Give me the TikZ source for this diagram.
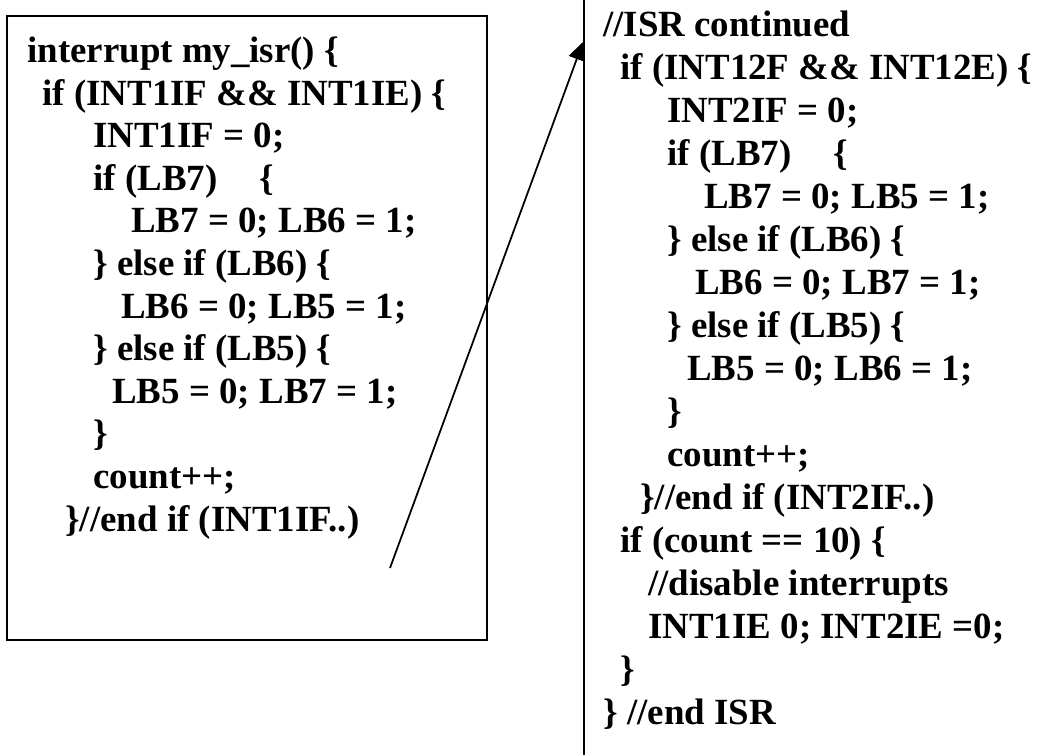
\documentclass[tikz,border=0pt]{standalone}
\usepackage{fontspec}
\setmainfont{Liberation Serif}
\usetikzlibrary{arrows.meta}

\begin{document}
\begin{tikzpicture}[x=0.02cm,y=-0.02cm,
                    code/.style={anchor=base west,inner sep=0pt,font=\fontsize{21}{24}\selectfont\bfseries},
                    frame/.style={line width=1.2pt},
                    jump/.style={line width=1pt,-{Triangle[length=0.36cm,width=0.34cm]}}]
    \path[use as bounding box] (0,0) rectangle (1049,755);

    % first half of the handler
    \draw[frame] (7,16) rectangle (487,640);
    \node[code] (a1)  at (27,62.5)  {interrupt my\_isr() \{};
    \node[code] (a2)  at (42,105.1) {if (INT1IF \&\& INT1IE) \{};
    \node[code] (a3)  at (93,147.7) {INT1IF = 0;};
    \node[code] (a4)  at (93,190.3) {if (LB7)\hspace{0.84cm}\{};
    \node[code] (a5)  at (131,232.9) {LB7 = 0; LB6 = 1;};
    \node[code] (a6)  at (93,275.5) {\} else if (LB6) \{};
    \node[code] (a7)  at (121,318.1) {LB6 = 0; LB5 = 1;};
    \node[code] (a8)  at (93,360.7) {\} else if (LB5) \{};
    \node[code] (a9)  at (112,403.3) {LB5 = 0; LB7 = 1;};
    \node[code] (a10) at (93,445.9) {\}};
    \node[code] (a11) at (93,488.5) {count++;};
    \node[code] (a12) at (65,531.1) {\}//end if (INT1IF..)};

    % second half, its box runs off the page
    \draw[frame] (584,0) -- (584,755);
    \node[code] (b1)  at (603,36)  {//ISR continued};
    \node[code] (b2)  at (620,79)  {if (INT12F \&\& INT12E) \{};
    \node[code] (b3)  at (667,122) {INT2IF = 0;};
    \node[code] (b4)  at (667,165) {if (LB7)\hspace{0.84cm}\{};
    \node[code] (b5)  at (704,208) {LB7 = 0; LB5 = 1;};
    \node[code] (b6)  at (667,251) {\} else if (LB6) \{};
    \node[code] (b7)  at (695,294) {LB6 = 0; LB7 = 1;};
    \node[code] (b8)  at (667,337) {\} else if (LB5) \{};
    \node[code] (b9)  at (687,380) {LB5 = 0; LB6 = 1;};
    \node[code] (b10) at (667,423) {\}};
    \node[code] (b11) at (667,466) {count++;};
    \node[code] (b12) at (640,509) {\}//end if (INT2IF..)};
    \node[code] (b13) at (620,552) {if (count == 10) \{};
    \node[code] (b14) at (648,595) {//disable interrupts};
    \node[code] (b15) at (648,638) {INT1IE 0; INT2IE =0;};
    \node[code] (b16) at (620,681) {\}};
    \node[code] (b17) at (603,724) {\} //end ISR};

    % continuation arrow
    \coordinate (from) at (390,568);
    \coordinate (to) at (583,42);
    \draw[jump] (from) -- (to);
\end{tikzpicture}
\end{document}
